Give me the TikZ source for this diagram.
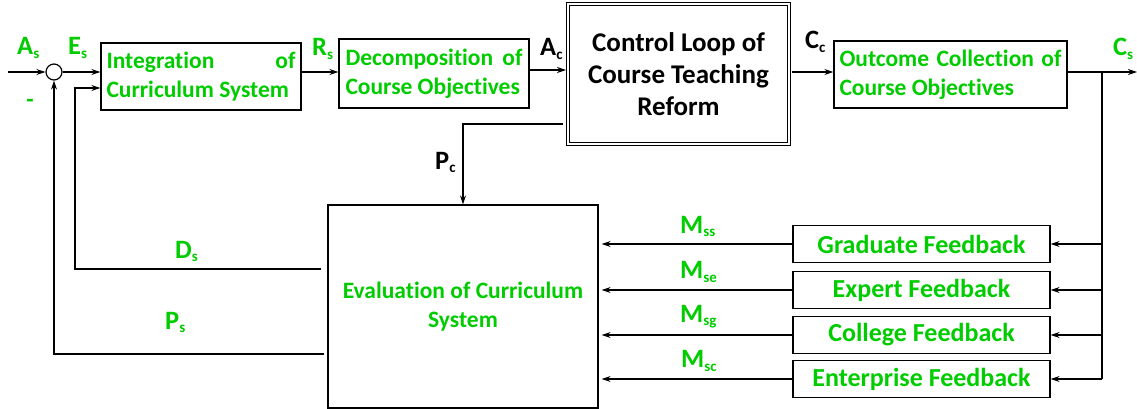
\documentclass[tikz,border=0pt]{standalone}
\usepackage{fontspec}
\setmainfont{Carlito}[Ligatures={NoCommon}]
\usetikzlibrary{arrows.meta}
\definecolor{grn}{RGB}{0,204,0}
\newcommand{\lab}[2]{{\fontsize{26.5}{30}\selectfont #1}{\fontsize{15}{17}\selectfont\raisebox{-3.5pt}{#2}}}
\newcommand{\jl}[2]{\makebox[#1][s]{#2}}
\begin{document}
\begin{tikzpicture}[x=1pt,y=-1pt,
  blk/.style={draw, line width=1.3pt, inner sep=0pt, font=\bfseries\fontsize{23.5}{28.5}\selectfont, text=grn, align=left},
  fbx/.style={draw, line width=1.3pt, minimum width=257pt, minimum height=37pt, inner sep=0pt, font=\bfseries\fontsize{26}{30}\selectfont, text=grn},
  arr/.style={line width=1.2pt, -{Stealth[length=9pt,width=6pt]}},
  ln/.style={line width=1.2pt},
  lbl/.style={anchor=base west, inner sep=0pt, font=\bfseries, text=grn},
  lblk/.style={anchor=base west, inner sep=0pt, font=\bfseries, text=black}]
\useasboundingbox (0,0) rectangle (1137,409);
% nodes
\node[circle, draw, line width=1.2pt, minimum size=16pt, inner sep=0pt] (sum) at (54,72) {};
\node[blk, minimum width=200pt, minimum height=67pt] (integ) at (201,76.5) {\jl{189pt}{Integration of}\\Curriculum System};
\node[blk, minimum width=190pt, minimum height=69pt] (decomp) at (434,73.5) {\jl{177pt}{Decomposition of}\\Course Objectives};
\node[draw, double, double distance=2pt, line width=1pt, minimum width=221pt, minimum height=140pt, font=\bfseries\fontsize{27}{32}\selectfont, align=center] (ctrl) at (678.5,74) {Control Loop of\\Course Teaching\\Reform};
\node[blk, minimum width=233pt, minimum height=67pt] (outc) at (950.5,74.5) {\jl{222pt}{Outcome Collection of}\\Course Objectives};
\node[blk, minimum width=270pt, minimum height=203pt, align=center] (eval) at (463,306.5) {Evaluation of Curriculum\\System};
\node[fbx] (fb1) at (921.5,244) {Graduate Feedback};
\node[fbx] (fb2) at (921.5,290) {Expert Feedback};
\node[fbx] (fb3) at (921.5,335) {College Feedback};
\node[fbx] (fb4) at (921.5,379) {Enterprise Feedback};
% coordinates
\coordinate (in) at (8,72);
\coordinate (r70) at (0,70);
\coordinate (r88) at (0,88);
\coordinate (csEnd) at (1137,72);
\coordinate (bus) at (1102,72);
\coordinate (pc1) at (563,124);
\coordinate (dsC) at (75,269);
\coordinate (psC) at (54,354);
% connectors
\draw[arr] (in) -- (sum);
\draw[arr] (sum) -- (sum -| integ.west);
\draw[arr] (integ.east |- sum) -- (decomp.west |- sum);
\draw[arr, shorten >=1.5pt] (decomp.east |- r70) -- (ctrl.west |- r70);
\draw[arr, shorten <=2pt] (ctrl.east |- sum) -- (outc.west |- sum);
\draw[arr] (outc.east |- sum) -- (csEnd);
\draw[ln] (bus) -- (bus |- fb4);
\foreach \f in {fb1,fb2,fb3,fb4}{
  \draw[arr] (bus |- \f) -- (\f.east);
  \draw[arr, shorten >=3pt] (\f.west) -- (eval.east |- \f);
}
\draw[arr] (pc1) -- (pc1 -| eval.north) -- (eval.north);
\draw[arr, shorten <=6pt] (eval.west |- dsC) -- (dsC) -- (dsC |- r88) -- (integ.west |- r88);
\draw[arr, shorten <=3pt] (eval.west |- psC) -- (psC) -- (sum.south);
% labels
\node[lbl] (lAs) at (17,55) {\lab{A}{s}};
\node[lbl] (lEs) at (68,55) {\lab{E}{s}};
\node[inner sep=0pt, text=grn, font=\bfseries\fontsize{24}{28}\selectfont] (lminus) at (30,103) {-};
\node[lbl] (lRs) at (312,56) {\lab{R}{s}};
\node[lblk] (lAc) at (540,56) {\lab{A}{c}};
\node[lblk] (lPc) at (435,169) {\lab{P}{c}};
\node[lblk] (lCc) at (805,49) {\lab{C}{c}};
\node[lbl] (lCs) at (1113,56) {\lab{C}{s}};
\node[lbl] (lDs) at (175,258) {\lab{D}{s}};
\node[lbl] (lPs) at (165,329) {\lab{P}{s}};
\node[lbl] (lMss) at (680,233) {\lab{M}{ss}};
\node[lbl] (lMse) at (680,278.5) {\lab{M}{se}};
\node[lbl] (lMsg) at (680,322) {\lab{M}{sg}};
\node[lbl] (lMsc) at (681,367.5) {\lab{M}{sc}};
\end{tikzpicture}
\end{document}
